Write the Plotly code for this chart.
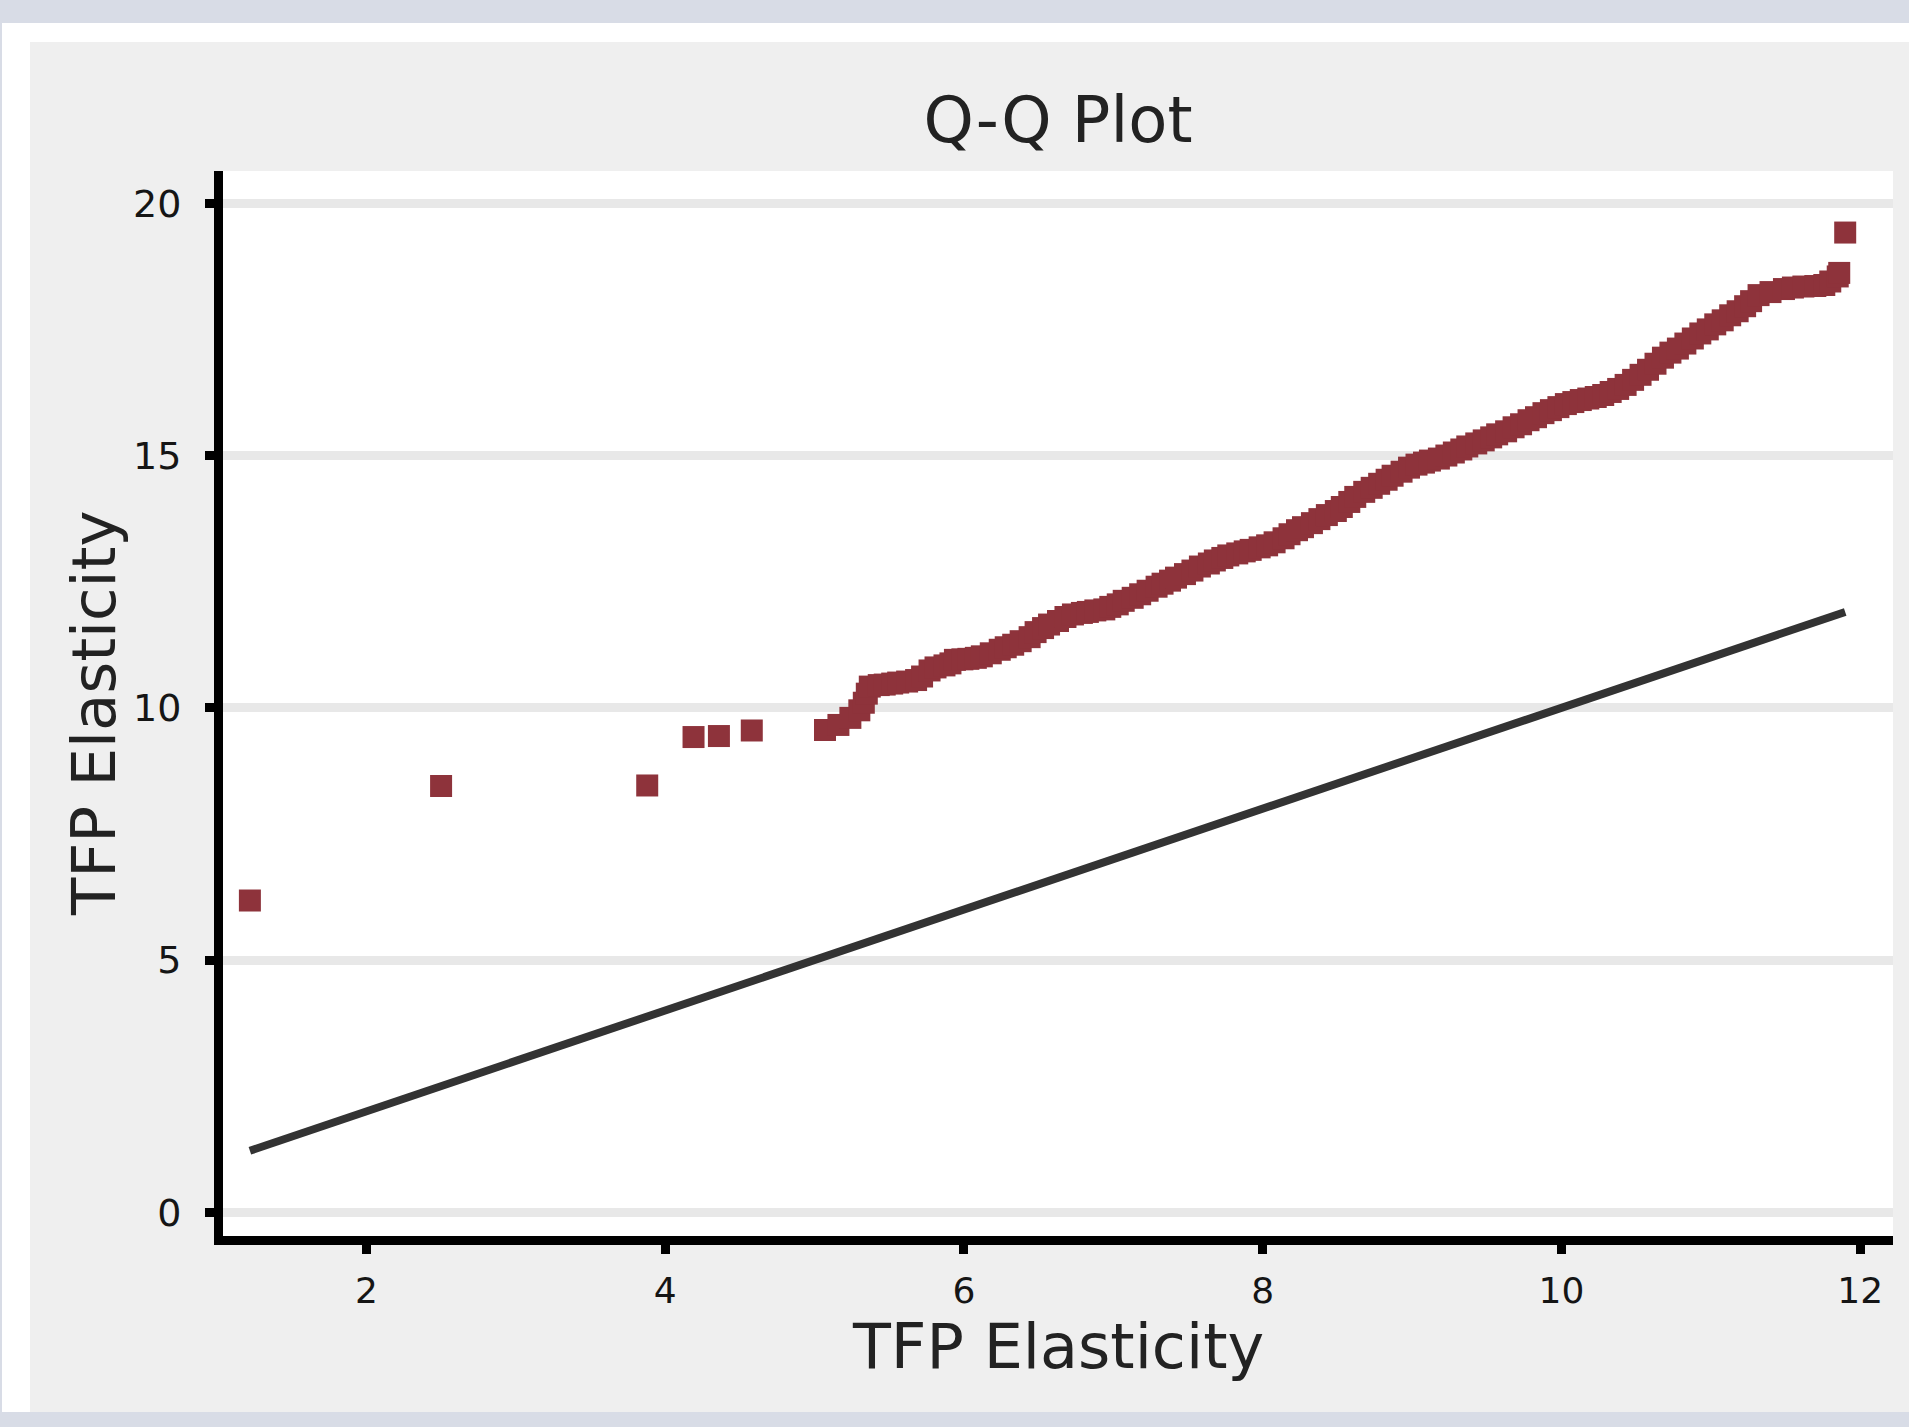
import plotly.graph_objects as go

# Q-Q plot: sorted TFP elasticity quantiles of one sample against the other
x_quantiles = [
    1.22, 2.50, 3.88, 4.19, 4.36, 4.58, 5.07, 5.16, 5.24, 5.30, 5.33, 5.35, 5.37,
    5.43, 5.47, 5.52, 5.56, 5.62, 5.68, 5.72, 5.77, 5.81, 5.87, 5.91, 5.94, 5.99,
    6.03, 6.08, 6.12, 6.18, 6.24, 6.28, 6.33, 6.38, 6.44, 6.48, 6.53, 6.57, 6.63,
    6.68, 6.73, 6.79, 6.83, 6.88, 6.94, 6.98, 7.03, 7.07, 7.13, 7.18, 7.23, 7.29,
    7.33, 7.38, 7.42, 7.48, 7.53, 7.58, 7.64, 7.68, 7.73, 7.77, 7.83, 7.88, 7.92,
    7.98, 8.03, 8.08, 8.14, 8.18, 8.23, 8.27, 8.33, 8.38, 8.43, 8.49, 8.53, 8.58,
    8.62, 8.68, 8.73, 8.78, 8.83, 8.87, 8.93, 8.98, 9.03, 9.08, 9.12, 9.18, 9.23,
    9.28, 9.33, 9.37, 9.43, 9.48, 9.53, 9.57, 9.63, 9.68, 9.73, 9.78, 9.83, 9.88,
    9.93, 9.98, 10.03, 10.08, 10.13, 10.18, 10.23, 10.28, 10.33, 10.38, 10.43,
    10.48, 10.53, 10.58, 10.63, 10.68, 10.73, 10.78, 10.83, 10.88, 10.93, 10.98,
    11.03, 11.08, 11.13, 11.18, 11.23, 11.27, 11.32, 11.40, 11.49, 11.55, 11.62,
    11.70, 11.76, 11.80, 11.85, 11.86, 11.90,
]
y_quantiles = [
    6.18, 8.45, 8.46, 9.42, 9.44, 9.55, 9.56, 9.66, 9.80, 9.95, 10.10, 10.28, 10.42,
    10.45, 10.46, 10.48, 10.50, 10.52, 10.55, 10.62, 10.74, 10.80, 10.84, 10.88,
    10.95, 10.96, 10.97, 10.99, 11.02, 11.08, 11.15, 11.20, 11.25, 11.32, 11.40,
    11.50, 11.58, 11.65, 11.72, 11.80, 11.85, 11.88, 11.90, 11.93, 11.95, 12.00,
    12.05, 12.12, 12.18, 12.25, 12.32, 12.40, 12.46, 12.52, 12.58, 12.65, 12.72,
    12.80, 12.86, 12.92, 12.97, 13.02, 13.06, 13.10, 13.13, 13.18, 13.22, 13.28,
    13.36, 13.44, 13.52, 13.58, 13.66, 13.74, 13.82, 13.90, 13.98, 14.08, 14.18,
    14.28, 14.36, 14.44, 14.52, 14.60, 14.68, 14.76, 14.82, 14.86, 14.90, 14.94,
    15.00, 15.06, 15.12, 15.18, 15.24, 15.30, 15.36, 15.42, 15.48, 15.56, 15.62,
    15.70, 15.76, 15.84, 15.90, 15.96, 16.02, 16.06, 16.10, 16.13, 16.16, 16.20,
    16.26, 16.32, 16.40, 16.50, 16.60, 16.70, 16.82, 16.94, 17.04, 17.12, 17.22,
    17.32, 17.42, 17.50, 17.60, 17.68, 17.78, 17.86, 17.96, 18.06, 18.18, 18.24,
    18.30, 18.33, 18.35, 18.36, 18.38, 18.45, 18.55, 18.62, 19.42, 19.75,
]

x_tick_vals = [2, 4, 6, 8, 10, 12]
y_tick_vals = [0, 5, 10, 15, 20]

chart_title = "Q-Q Plot"
x_title = "TFP Elasticity"
y_title = "TFP Elasticity"

# reference line y = x across the sample range
ref_ends = [min(x_quantiles), max(x_quantiles)]

W, H = 1909, 1427
L, T, R, B = 223, 171, 16, 191
PW, PH = W - L - R, H - T - B

FONT = "DejaVu Sans"
INK = "#151515"


def px_x(px):
    return (px - L) / PW


def px_y(py):
    return (T + PH - py) / PH


def band(x0, y0, x1, y1, color):
    return dict(type="rect", xref="paper", yref="paper",
                x0=px_x(x0), x1=px_x(x1), y0=px_y(y1), y1=px_y(y0),
                fillcolor=color, line=dict(width=0), layer="below")


fig = go.Figure()
fig.add_trace(go.Scatter(
    x=ref_ends, y=ref_ends, mode="lines",
    line=dict(color="#333333", width=8), hoverinfo="skip", showlegend=False,
))
fig.add_trace(go.Scatter(
    x=x_quantiles, y=y_quantiles, mode="markers",
    marker=dict(symbol="square", size=22, color="#8e333b", line=dict(width=0)),
    showlegend=False,
))

# page frame around the chart card
frame = [
    band(0, 0, W, 23, "#d8dce6"),
    band(0, 23, W, 42, "#ffffff"),
    band(0, 23, 30, 1412, "#ffffff"),
    band(0, 0, 2, H, "#d8dce6"),
    band(0, 1412, W, H, "#d8dce6"),
]

fig.update_layout(
    width=W, height=H,
    margin=dict(l=L, r=R, t=T, b=B, pad=0),
    paper_bgcolor="#efefef",
    plot_bgcolor="#ffffff",
    font=dict(family=FONT, color=INK),
    shapes=frame,
    title=dict(text=chart_title, x=0.5, xref="paper", xanchor="center",
               y=1 - 120 / H, yref="container", yanchor="middle",
               font=dict(family=FONT, size=64, color="#222222")),
    annotations=[
        dict(text=x_title, xref="paper", yref="paper", x=0.5, y=px_y(1346),
             xanchor="center", yanchor="middle", showarrow=False,
             font=dict(family=FONT, size=62, color="#222222")),
        dict(text=y_title, xref="paper", yref="paper", x=px_x(93), y=px_y(713),
             xanchor="center", yanchor="middle", textangle=-90, showarrow=False,
             font=dict(family=FONT, size=61, color="#222222")),
    ],
    xaxis=dict(
        range=[1.04, 12.22], tickvals=x_tick_vals, ticktext=[str(v) for v in x_tick_vals],
        showgrid=False, zeroline=False,
        showline=True, linecolor="#000000", linewidth=9,
        ticks="outside", ticklen=9, tickwidth=9, tickcolor="#000000",
        ticklabelstandoff=6,
        tickfont=dict(family=FONT, size=36, color=INK),
    ),
    yaxis=dict(
        range=[-0.47, 20.64], tickvals=y_tick_vals, ticktext=[str(v) for v in y_tick_vals],
        showgrid=True, gridcolor="#e8e8e8", gridwidth=9, zeroline=False,
        showline=True, linecolor="#000000", linewidth=9,
        ticks="outside", ticklen=9, tickwidth=9, tickcolor="#000000",
        ticklabelstandoff=16,
        tickfont=dict(family=FONT, size=38, color=INK),
    ),
)

fig.write_html("out.html")
